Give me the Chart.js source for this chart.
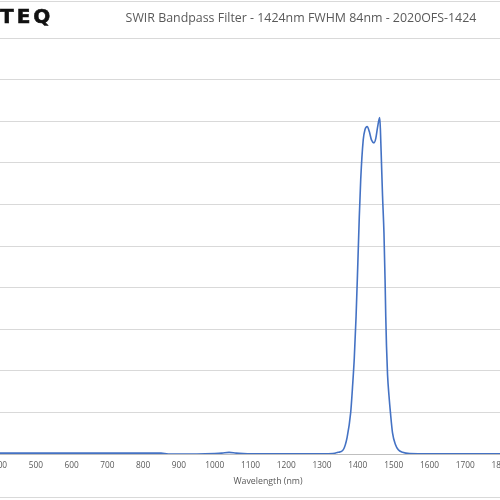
<!DOCTYPE html>
<html>
<head>
<meta charset="utf-8">
<script src="https://cdn.jsdelivr.net/npm/chart.js@4"></script>
<style>
  html, body { margin: 0; padding: 0; width: 500px; height: 500px; overflow: hidden; background: #fff; }
  #wrap { position: absolute; left: -30px; top: 0; width: 560px; height: 500px; }
  .border { position: absolute; left: 0; width: 500px; height: 1px; background: #d9d9d9; }
  #logo { position: absolute; left: 0px; top: 4px; font-family: "DejaVu Sans", sans-serif; font-weight: bold; font-size: 20px; letter-spacing: 3px; color: #111; -webkit-text-stroke: 0.6px #111; }
  #title { position: absolute; left: 101px; width: 400px; top: 10px; text-align: center; font-family: "Open Sans", sans-serif; font-size: 12.4px; line-height: 16px; color: #595959; white-space: nowrap; }
  #xtitle { position: absolute; left: 168px; width: 200px; top: 475px; text-align: center; font-family: "Open Sans", sans-serif; font-size: 8.8px; line-height: 12px; color: #595959; }
</style>
</head>
<body>
<div id="wrap"><canvas id="c" width="560" height="500"></canvas></div>
<div class="border" style="top:1px"></div>
<div class="border" style="top:497px"></div>
<div id="logo">TEQ</div>
<div id="title">SWIR Bandpass Filter - 1424nm FWHM 84nm - 2020OFS-1424</div>
<div id="xtitle">Wavelength (nm)</div>
<script>
// Wavelength (nm) and transmission (%)
const wavelengths = [400, 500, 600, 700, 800, 850, 870, 950, 1000, 1020, 1040, 1060, 1080, 1100, 1200, 1300, 1330,
  1345, 1359, 1370, 1380, 1385, 1390, 1395, 1400, 1404, 1408, 1415, 1420, 1426, 1432, 1438, 1445, 1450, 1455, 1461,
  1463, 1466, 1469, 1473, 1476, 1478, 1480, 1483, 1487, 1491, 1497, 1505, 1513, 1525, 1545, 1600, 1700, 1800];
const transmission = [0.2, 0.2, 0.2, 0.2, 0.2, 0.2, 0.0, 0.0, 0.1, 0.2, 0.4, 0.2, 0.1, 0.05, 0.05, 0.05, 0.1,
  0.4, 1.0, 4, 10, 16, 23, 33, 46, 57, 66, 75.5, 78, 78.7, 77.5, 75.5, 74.8, 75.8, 78.5, 80.9,
  78, 70, 62, 53, 42, 33, 26, 19, 14, 10, 5, 2.3, 1.0, 0.4, 0.1, 0.05, 0.05, 0.05];
const xMin = 400, xMax = 1800, xStep = 100;
const yMin = 0, yMax = 100, yStep = 10;

const points = wavelengths.map((w, i) => ({ x: w, y: transmission[i] }));

new Chart(document.getElementById('c'), {
  type: 'line',
  data: { datasets: [{
    data: points,
    borderColor: '#4472C4',
    borderWidth: 1.6,
    pointRadius: 0,
    fill: false,
    cubicInterpolationMode: 'monotone'
  }]},
  options: {
    responsive: false,
    animation: false,
    events: [],
    layout: { padding: { left: 30, right: 29, top: 38, bottom: 0 } },
    plugins: { legend: { display: false }, tooltip: { enabled: false }, title: { display: false } },
    scales: {
      x: {
        type: 'linear', min: xMin, max: xMax,
        grid: { display: false, drawTicks: false },
        border: { display: false },
        ticks: { stepSize: xStep, padding: 7, color: '#595959', font: { family: 'Open Sans', size: 8.3 }, maxRotation: 0, autoSkip: false,
          callback: v => String(v) },
        afterFit: s => { s.height = 46; }
      },
      y: {
        min: yMin, max: yMax,
        ticks: { display: false, stepSize: yStep },
        grid: { color: ctx => ctx.tick && ctx.tick.value === 0 ? '#bfbfbf' : '#d9d9d9', drawTicks: false, lineWidth: 1 },
        border: { display: false },
        afterFit: s => { s.width = 0; }
      }
    }
  }
});
</script>
</body>
</html>
